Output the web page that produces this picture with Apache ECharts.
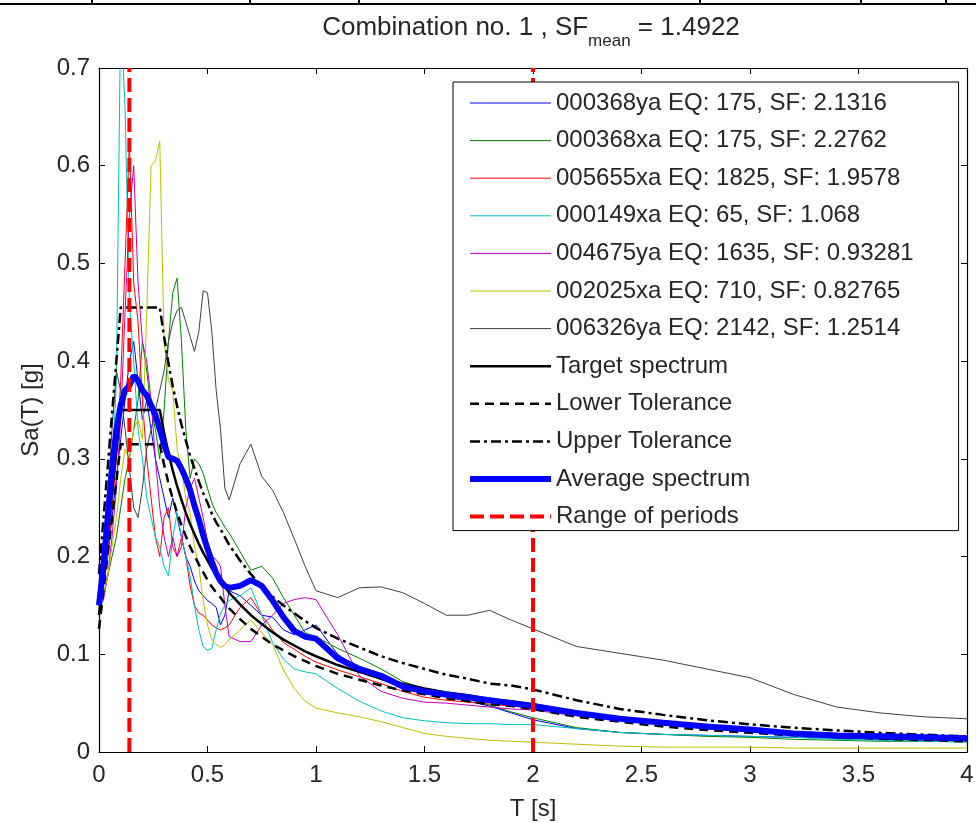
<!DOCTYPE html>
<html>
<head>
<meta charset="utf-8">
<script src="https://cdn.jsdelivr.net/npm/echarts@6/dist/echarts.min.js"></script>
<style>
  html, body { margin: 0; padding: 0; background: #fff; }
  #chart { width: 976px; height: 823px; }
</style>
</head>
<body>
<div id="chart"></div>
<script>
// periods T [s]
const periods = [
  0, 0.02, 0.04, 0.06, 0.08, 0.1, 0.12, 0.14, 0.16, 0.18,
  0.2, 0.22, 0.24, 0.26, 0.28, 0.3, 0.32, 0.34, 0.36, 0.38,
  0.4, 0.42, 0.44, 0.46, 0.48, 0.5, 0.52, 0.54, 0.56, 0.58,
  0.6, 0.65, 0.7, 0.75, 0.8, 0.85, 0.9, 0.95, 1.0, 1.1,
  1.2, 1.3, 1.4, 1.5, 1.6, 1.7, 1.8, 1.9, 2.0, 2.2,
  2.4, 2.6, 2.8, 3.0, 3.2, 3.4, 3.6, 3.8, 4.0
];

// scaled records Sa(T) [g]
const sa000368ya = [
  0.15, 0.17, 0.20, 0.24, 0.28, 0.32, 0.36, 0.40, 0.42, 0.38,
  0.34, 0.36, 0.33, 0.30, 0.28, 0.26, 0.24, 0.26, 0.24, 0.22,
  0.20, 0.19, 0.175, 0.165, 0.16, 0.155, 0.152, 0.148, 0.13, 0.14,
  0.165, 0.16, 0.15, 0.14, 0.138, 0.125, 0.12, 0.125, 0.13, 0.10,
  0.085, 0.074, 0.066, 0.06, 0.056, 0.052, 0.047, 0.04, 0.033, 0.024,
  0.02, 0.018, 0.017, 0.016, 0.015, 0.014, 0.013, 0.012, 0.012
];
const sa000368xa = [
  0.15, 0.16, 0.18, 0.20, 0.22, 0.25, 0.28, 0.30, 0.33, 0.36,
  0.42, 0.39, 0.35, 0.33, 0.30, 0.35, 0.42, 0.47, 0.485, 0.42,
  0.33, 0.28, 0.30, 0.295, 0.285, 0.27, 0.255, 0.245, 0.238, 0.23,
  0.224, 0.205, 0.186, 0.19, 0.178, 0.158, 0.14, 0.122, 0.118, 0.106,
  0.096, 0.085, 0.072, 0.065, 0.06, 0.054, 0.048, 0.041, 0.035, 0.025,
  0.02, 0.018, 0.016, 0.015, 0.013, 0.012, 0.011, 0.011, 0.011
];
const sa005655xa = [
  0.15, 0.17, 0.20, 0.25, 0.30, 0.38, 0.50, 0.625, 0.48, 0.44,
  0.36, 0.30, 0.26, 0.22, 0.20, 0.24, 0.25, 0.21, 0.20, 0.22,
  0.20, 0.17, 0.15, 0.142, 0.14, 0.135, 0.13, 0.127, 0.125, 0.127,
  0.13, 0.148, 0.158, 0.14, 0.125, 0.112, 0.105, 0.098, 0.092, 0.084,
  0.077, 0.07, 0.062, 0.056, 0.053, 0.051, 0.049, 0.047, 0.045, 0.04,
  0.036, 0.031, 0.027, 0.024, 0.021, 0.019, 0.017, 0.016, 0.015
];
const sa000149xa = [
  0.15, 0.18, 0.22, 0.28, 0.38, 0.76, 0.66, 0.46, 0.40, 0.33,
  0.30, 0.26, 0.24, 0.22, 0.21, 0.19, 0.18, 0.22, 0.245, 0.22,
  0.20, 0.18, 0.15, 0.125, 0.108, 0.104, 0.106, 0.125, 0.142, 0.15,
  0.155, 0.16, 0.168, 0.14, 0.112, 0.095, 0.085, 0.082, 0.08, 0.065,
  0.052, 0.042, 0.035, 0.032, 0.03, 0.029, 0.029, 0.028, 0.028, 0.024,
  0.02, 0.018, 0.017, 0.016, 0.015, 0.013, 0.012, 0.011, 0.01
];
const sa004675ya = [
  0.15, 0.155, 0.18, 0.22, 0.27, 0.34, 0.45, 0.55, 0.60, 0.48,
  0.42, 0.40, 0.36, 0.30, 0.25, 0.22, 0.20, 0.22, 0.20, 0.21,
  0.25, 0.27, 0.28, 0.26, 0.24, 0.215, 0.20, 0.197, 0.19, 0.15,
  0.118, 0.113, 0.113, 0.13, 0.14, 0.152, 0.156, 0.158, 0.156, 0.12,
  0.078, 0.062, 0.055, 0.051, 0.05, 0.048, 0.046, 0.044, 0.043, 0.037,
  0.033, 0.028, 0.024, 0.021, 0.019, 0.017, 0.016, 0.015, 0.014
];
const sa002025xa = [
  0.15, 0.16, 0.18, 0.21, 0.24, 0.28, 0.31, 0.30, 0.33, 0.34,
  0.32, 0.45, 0.60, 0.605, 0.625, 0.42, 0.38, 0.37, 0.31, 0.29,
  0.26, 0.245, 0.21, 0.19, 0.155, 0.13, 0.115, 0.11, 0.107, 0.11,
  0.115, 0.125, 0.135, 0.122, 0.11, 0.084, 0.065, 0.052, 0.045, 0.04,
  0.036, 0.031, 0.025, 0.019, 0.016, 0.014, 0.012, 0.011, 0.01, 0.008,
  0.006, 0.005, 0.005, 0.005, 0.004, 0.004, 0.004, 0.004, 0.004
];
const sa006326ya = [
  0.17, 0.20, 0.26, 0.33, 0.39, 0.37, 0.33, 0.29, 0.25, 0.24,
  0.27, 0.31, 0.33, 0.35, 0.37, 0.39, 0.42, 0.44, 0.452, 0.455,
  0.44, 0.425, 0.41, 0.43, 0.472, 0.47, 0.43, 0.37, 0.33, 0.27,
  0.258, 0.295, 0.315, 0.282, 0.268, 0.245, 0.218, 0.19, 0.165, 0.158,
  0.168, 0.169, 0.163, 0.152, 0.14, 0.14, 0.145, 0.135, 0.126, 0.108,
  0.101, 0.094, 0.085, 0.076, 0.059, 0.046, 0.04, 0.036, 0.034
];

const targetSa = [
  0.14, 0.182, 0.224, 0.266, 0.308, 0.35, 0.35, 0.35, 0.35, 0.35,
  0.35, 0.35, 0.35, 0.35, 0.35, 0.327, 0.306, 0.288, 0.272, 0.258,
  0.245, 0.233, 0.223, 0.213, 0.204, 0.196, 0.188, 0.181, 0.175, 0.169,
  0.163, 0.151, 0.14, 0.131, 0.1225, 0.115, 0.109, 0.103, 0.098, 0.089,
  0.082, 0.075, 0.07, 0.065, 0.061, 0.058, 0.054, 0.052, 0.049, 0.0405,
  0.034, 0.029, 0.025, 0.0218, 0.0191, 0.017, 0.0151, 0.0136, 0.0123
];
const lowerSa = [
  0.126, 0.164, 0.202, 0.239, 0.277, 0.315, 0.315, 0.315, 0.315, 0.315,
  0.315, 0.315, 0.315, 0.315, 0.315, 0.294, 0.275, 0.259, 0.245, 0.232,
  0.221, 0.21, 0.201, 0.192, 0.184, 0.176, 0.169, 0.163, 0.158, 0.152,
  0.147, 0.136, 0.126, 0.118, 0.11, 0.104, 0.098, 0.093, 0.088, 0.08,
  0.074, 0.068, 0.063, 0.059, 0.055, 0.052, 0.049, 0.047, 0.044, 0.036,
  0.031, 0.026, 0.0225, 0.0196, 0.0172, 0.0153, 0.0136, 0.0122, 0.011
];
const upperSa = [
  0.182, 0.237, 0.291, 0.346, 0.4, 0.455, 0.455, 0.455, 0.455, 0.455,
  0.455, 0.455, 0.455, 0.455, 0.455, 0.425, 0.398, 0.374, 0.354, 0.335,
  0.319, 0.303, 0.29, 0.277, 0.265, 0.255, 0.244, 0.235, 0.228, 0.22,
  0.212, 0.196, 0.182, 0.17, 0.159, 0.15, 0.142, 0.134, 0.127, 0.116,
  0.107, 0.098, 0.091, 0.085, 0.079, 0.075, 0.07, 0.068, 0.064, 0.053,
  0.044, 0.038, 0.0325, 0.0283, 0.0248, 0.0221, 0.0196, 0.0177, 0.016
];
const averageSa = [
  0.15, 0.19, 0.24, 0.29, 0.33, 0.355, 0.37, 0.375, 0.385, 0.38,
  0.37, 0.365, 0.355, 0.345, 0.33, 0.315, 0.302, 0.30, 0.298, 0.29,
  0.28, 0.268, 0.252, 0.238, 0.222, 0.208, 0.195, 0.183, 0.175, 0.17,
  0.168, 0.17, 0.176, 0.17, 0.155, 0.138, 0.124, 0.118, 0.116, 0.096,
  0.085, 0.078, 0.067, 0.062, 0.059, 0.056, 0.053, 0.05, 0.047, 0.04,
  0.034, 0.03, 0.026, 0.023, 0.019, 0.017, 0.016, 0.015, 0.014
];

// range of periods (vertical lines)
const rangeT = [0.14, 2.0];

const recordNames = [
  "000368ya EQ: 175, SF: 2.1316",
  "000368xa EQ: 175, SF: 2.2762",
  "005655xa EQ: 1825, SF: 1.9578",
  "000149xa EQ: 65, SF: 1.068",
  "004675ya EQ: 1635, SF: 0.93281",
  "002025xa EQ: 710, SF: 0.82765",
  "006326ya EQ: 2142, SF: 1.2514"
];
const recordValues = [sa000368ya, sa000368xa, sa005655xa, sa000149xa, sa004675ya, sa002025xa, sa006326ya];
const recordColors = ["#0000ff", "#008000", "#ff0000", "#00bfbf", "#bf00bf", "#bfbf00", "#404040"];

const xTicks = { min: 0, max: 4, interval: 0.5 };
const yTicks = { min: 0, max: 0.7, interval: 0.1 };

const FONT = "Liberation Sans, Arial, sans-serif";
const TXT = "#262626";

function pairs(vals) {
  return periods.map(function (t, i) { return [t, vals[i]]; });
}

/*标题宽度*/
function textWidth(str, size) {
  let ctx = document.createElement("canvas").getContext("2d");
  ctx.font = size + "px " + FONT;
  return ctx.measureText(str).width;
}

const targetStyle = { color: "#000", width: 2.5 };
const lowerStyle = { color: "#000", width: 2.5, type: [9, 6] };
const upperStyle = { color: "#000", width: 2.5, type: [10, 4, 3, 4] };
const averageStyle = { color: "#0000ff", width: 6 };
const rangeStyle = { color: "#ff0000", width: 4, type: [14, 6] };

let series = [];
recordNames.forEach(function (name, i) {
  series.push({
    name: name,
    type: "line",
    symbol: "none",
    data: pairs(recordValues[i]),
    lineStyle: { color: recordColors[i], width: 1 },
    itemStyle: { color: recordColors[i] }
  });
});
series.push({ name: "Target spectrum", type: "line", symbol: "none", data: pairs(targetSa),
  lineStyle: targetStyle, itemStyle: { color: "#000" } });
series.push({ name: "Lower Tolerance", type: "line", symbol: "none", data: pairs(lowerSa),
  lineStyle: lowerStyle, itemStyle: { color: "#000" } });
series.push({ name: "Upper Tolerance", type: "line", symbol: "none", data: pairs(upperSa),
  lineStyle: upperStyle, itemStyle: { color: "#000" } });
series.push({ name: "Average spectrum", type: "line", symbol: "none", data: pairs(averageSa),
  lineStyle: averageStyle, itemStyle: { color: "#0000ff" } });
rangeT.forEach(function (t) {
  series.push({
    name: "Range of periods", type: "line", symbol: "none",
    data: [[t, yTicks.min], [t, yTicks.max]],
    lineStyle: rangeStyle, itemStyle: { color: "#ff0000" }
  });
});

let legendData = recordNames.map(function (n) {
  return { name: n, lineStyle: { width: 1 } };
});
legendData.push({ name: "Target spectrum", lineStyle: targetStyle });
legendData.push({ name: "Lower Tolerance", lineStyle: lowerStyle });
legendData.push({ name: "Upper Tolerance", lineStyle: upperStyle });
legendData.push({ name: "Average spectrum", lineStyle: averageStyle });
legendData.push({ name: "Range of periods", lineStyle: rangeStyle });

// title pieces: main text, subscript, main text
const t1 = "Combination no. 1 , SF";
const t2 = "mean";
const t3 = " = 1.4922";
const w1 = textWidth(t1, 26), w2 = textWidth(t2, 17), w3 = textWidth(t3, 26);
const tx = 531 - (w1 + w2 + w3) / 2;

const axisCommon = {
  type: "value",
  axisLine: { show: true, onZero: false, lineStyle: { color: "#000", width: 1.2 } },
  axisTick: { show: true, inside: true, length: 6, lineStyle: { color: "#000" } },
  splitLine: { show: false }
};

const borderStyle = { stroke: "#000", lineWidth: 2 };

let myChart = echarts.init(document.getElementById("chart"));
let option = {
  animation: false,
  backgroundColor: "#fff",
  grid: { left: 99, right: 9, top: 68, bottom: 71, containLabel: false, outerBoundsMode: "none" },
  graphic: [
    { type: "text", x: tx, y: 28, silent: true,
      style: { text: t1, fontFamily: FONT, fontSize: 26, fill: TXT, align: "left", verticalAlign: "middle" } },
    { type: "text", x: tx + w1, y: 41, silent: true,
      style: { text: t2, fontFamily: FONT, fontSize: 17, fill: TXT, align: "left", verticalAlign: "middle" } },
    { type: "text", x: tx + w1 + w2, y: 28, silent: true,
      style: { text: t3, fontFamily: FONT, fontSize: 26, fill: TXT, align: "left", verticalAlign: "middle" } },
    // cropped table border at top
    { type: "line", silent: true, shape: { x1: 0, y1: 4, x2: 976, y2: 4 }, style: borderStyle },
    { type: "line", silent: true, shape: { x1: 92, y1: 0, x2: 92, y2: 4 }, style: borderStyle },
    { type: "line", silent: true, shape: { x1: 250, y1: 0, x2: 250, y2: 4 }, style: borderStyle },
    { type: "line", silent: true, shape: { x1: 359, y1: 0, x2: 359, y2: 4 }, style: borderStyle },
    { type: "line", silent: true, shape: { x1: 700, y1: 0, x2: 700, y2: 4 }, style: borderStyle },
    { type: "line", silent: true, shape: { x1: 861, y1: 0, x2: 861, y2: 4 }, style: borderStyle },
    { type: "line", silent: true, shape: { x1: 946, y1: 0, x2: 946, y2: 4 }, style: borderStyle }
  ],
  legend: {
    data: legendData,
    orient: "vertical",
    left: 453,
    top: 82,
    padding: [9, 45, 2, 14],
    itemWidth: 81,
    itemHeight: 14,
    itemGap: 13.6,
    borderColor: "#000",
    borderWidth: 1,
    backgroundColor: "#fff",
    selectedMode: false,
    itemStyle: { opacity: 0 },
    textStyle: { fontFamily: FONT, fontSize: 24, color: TXT, lineHeight: 24 }
  },
  xAxis: [
    Object.assign({}, axisCommon, xTicks, {
      position: "bottom",
      name: "T [s]", nameLocation: "middle", nameGap: 45,
      nameTextStyle: { fontFamily: FONT, fontSize: 24, color: TXT },
      axisLabel: { fontFamily: FONT, fontSize: 24, color: TXT, margin: 11 }
    }),
    Object.assign({}, axisCommon, xTicks, { position: "top", axisLabel: { show: false } })
  ],
  yAxis: [
    Object.assign({}, axisCommon, yTicks, {
      position: "left",
      name: "Sa(T) [g]", nameLocation: "middle", nameGap: 56,
      nameTextStyle: { fontFamily: FONT, fontSize: 24, color: TXT },
      axisLabel: { fontFamily: FONT, fontSize: 24, color: TXT, margin: 9 }
    }),
    Object.assign({}, axisCommon, yTicks, { position: "right", axisLabel: { show: false } })
  ],
  series: series
};
myChart.setOption(option);
</script>
</body>
</html>
